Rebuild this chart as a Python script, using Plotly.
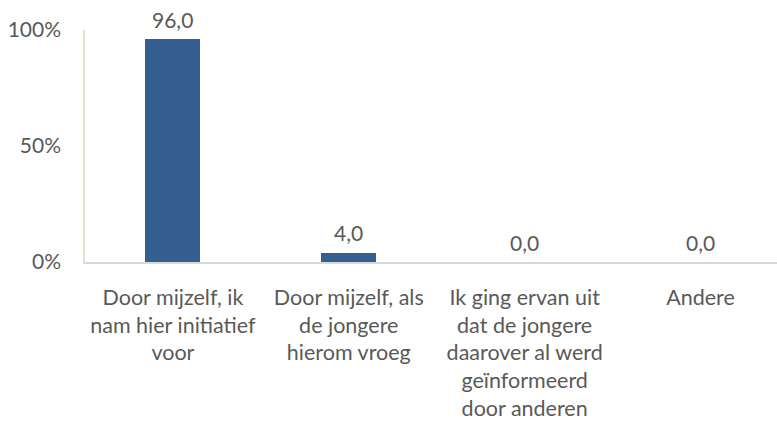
import plotly.graph_objects as go

categories = [
    "Door mijzelf, ik<br>nam hier initiatief<br>voor",
    "Door mijzelf, als<br>de jongere<br>hierom vroeg",
    "Ik ging ervan uit<br>dat de jongere<br>daarover al werd<br>geïnformeerd<br>door anderen",
    "Andere",
]
values = [96.0, 4.0, 0.0, 0.0]
y_ticks = [0, 50, 100]
y_tick_labels = ["0%", "50%", "100%"]

FONT = "Lato"
GREY = "#595959"
x_pos = list(range(len(categories)))

fig = go.Figure(
    go.Bar(
        x=x_pos,
        y=values,
        width=0.3125,
        marker=dict(color="#355f91", line=dict(width=0)),
        hoverinfo="skip",
    )
)

for xi, v in zip(x_pos, values):
    fig.add_annotation(
        x=xi, y=v, xref="x", yref="y",
        text=f"{v:.1f}".replace(".", ","),
        showarrow=False,
        yanchor="middle",
        yshift=20,
        font=dict(family=FONT, size=21, color=GREY),
    )

fig.update_layout(
    width=777,
    height=421,
    margin=dict(l=85, r=0, t=30, b=159),
    plot_bgcolor="white",
    paper_bgcolor="white",
    separators=",.",
    showlegend=False,
    font=dict(family=FONT, size=21, color=GREY),
    bargap=0,
)

fig.update_xaxes(
    range=[-0.5, 3.435],
    tickmode="array",
    tickvals=x_pos,
    ticktext=categories,
    showgrid=False,
    zeroline=False,
    showline=True,
    linecolor="#d9d9d9",
    linewidth=1.5,
    ticks="",
    tickfont=dict(family=FONT, size=21.5, color=GREY),
    ticklabelstandoff=15,
)

fig.update_yaxes(
    range=[0, 100],
    tickmode="array",
    tickvals=y_ticks,
    ticktext=y_tick_labels,
    showgrid=False,
    zeroline=False,
    showline=True,
    linecolor="#e5e1cc",
    linewidth=1.5,
    ticks="",
    tickfont=dict(family=FONT, size=21, color=GREY),
    ticklabelstandoff=18,
)

fig.write_html(
    "out.html",
    config={"displayModeBar": False},
    post_script="document.body.style.margin='0';",
)
